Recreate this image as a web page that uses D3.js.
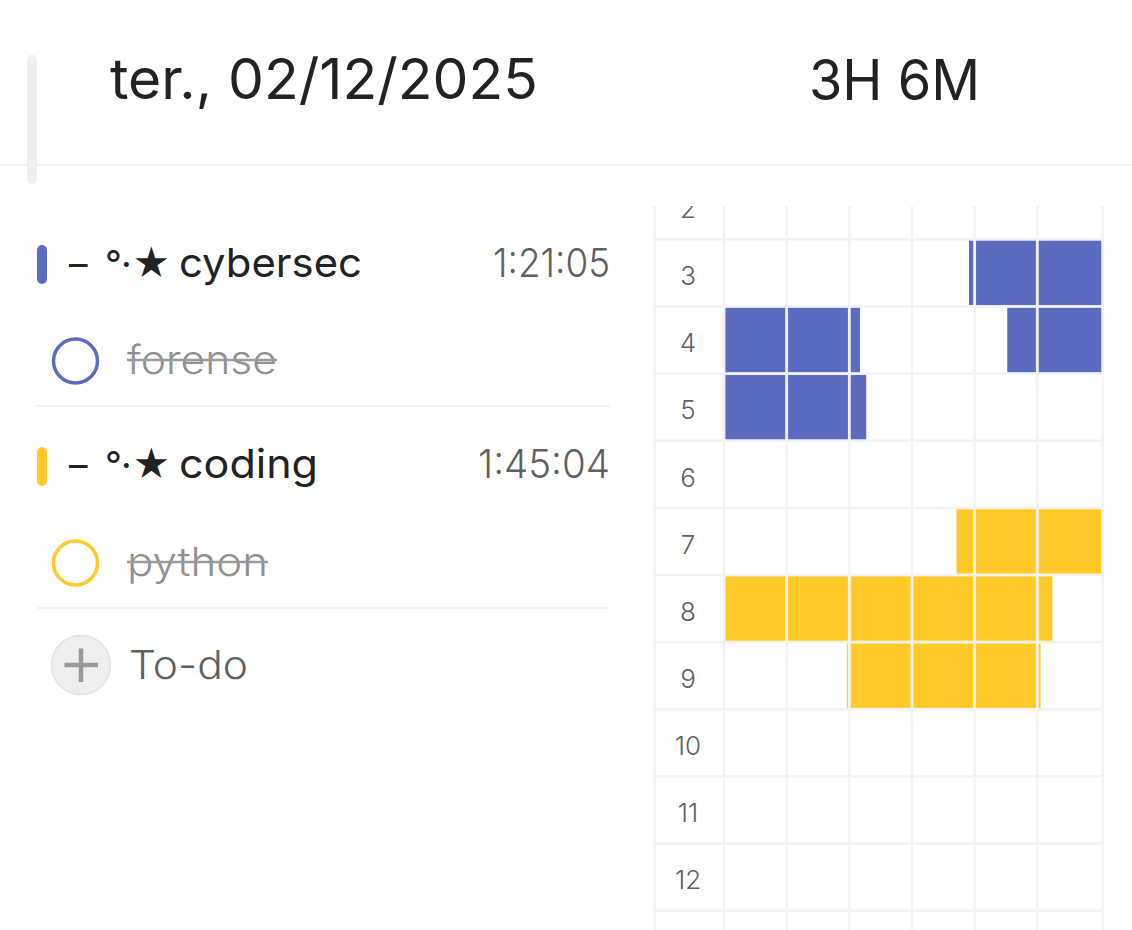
<!DOCTYPE html>
<html>
<head>
<meta charset="utf-8">
<script src="https://cdn.jsdelivr.net/npm/d3@7"></script>
<style>
  html, body { margin: 0; background: #fff; }
  svg { display: block; }
  text { font-family: Inter, "Noto Sans", sans-serif; }
  .axis path, .axis line { display: none; }
  .axis text { font-size: 26px; font-weight: 300; fill: #5f5f5f; font-family: Inter, sans-serif; }
</style>
</head>
<body>
<svg id="chart" width="1132" height="930"></svg>
<script>
const dateLabel = 'ter., 02/12/2025';
const totalLabel = '3H 6M';
const addLabel = 'To-do';

const hours = [2, 3, 4, 5, 6, 7, 8, 9, 10, 11, 12, 13];
const minuteTicks = [0, 10, 20, 30, 40, 50, 60];

const categoryPrefix = '– °·★';
const categories = ['cybersec', 'coding'];
const categoryTimes = ['1:21:05', '1:45:04'];
const categoryTasks = ['forense', 'python'];
const categoryColors = ['#5c6bc0', '#ffca28'];

// [hour, start minute, end minute]
const cybersecSessions = [[3, 39.1, 60], [4, 0, 21.7], [4, 45.2, 60], [5, 0, 22.7]];
const codingSessions = [[7, 37.1, 60], [8, 0, 52.3], [9, 19.6, 50.5]];

const gridColor = '#f1f2f6';

const svg = d3.select('#chart');

// last column of the grid is slightly wider in the app
const x = d3.scaleLinear().domain([0, 50, 60]).range([724, 1037.3, 1102.7]);
const y = d3.scaleLinear().domain([3, 13]).range([239.3, 910.7]);

// header
svg.append('text').attr('x', 110).attr('y', 98.5)
  .attr('textLength', 428).attr('lengthAdjust', 'spacingAndGlyphs')
  .attr('font-size', 56).attr('fill', '#222').text(dateLabel);
svg.append('text').attr('x', 809).attr('y', 99.5)
  .attr('textLength', 171).attr('lengthAdjust', 'spacingAndGlyphs')
  .attr('font-size', 56).attr('fill', '#222').text(totalLabel);
svg.append('line').attr('x1', 0).attr('x2', 1132).attr('y1', 165).attr('y2', 165)
  .attr('stroke', gridColor).attr('stroke-width', 2);
svg.append('rect').attr('x', 27).attr('y', 55).attr('width', 10).attr('height', 129)
  .attr('rx', 5).attr('fill', '#eeeeee');

// category list
const titleWidths = [183, 139];
const timeWidths = [117, 132];
const taskWidths = [150, 141];
const rows = [
  { barY: 245, titleY: 277, circleY: 361, taskY: 374, strikeY: 360, ruleY: 406 },
  { barY: 447, titleY: 478, circleY: 563, taskY: 576, strikeY: 562, ruleY: 608 }
];

categories.forEach((name, i) => {
  const r = rows[i];
  const g = svg.append('g');
  g.append('rect').attr('x', 37).attr('y', r.barY).attr('width', 10).attr('height', 39)
    .attr('rx', 5).attr('fill', categoryColors[i]);
  // each prefix glyph gets its own x, the spacing in the app is wider than Inter's
  g.append('text').attr('x', '69 91 105 121 132').attr('y', r.titleY)
    .attr('font-size', 37).attr('fill', '#222').text(categoryPrefix);
  g.append('text').attr('x', 179).attr('y', r.titleY)
    .attr('textLength', titleWidths[i]).attr('lengthAdjust', 'spacingAndGlyphs')
    .attr('font-size', 40).attr('fill', '#222').text(name);
  g.append('text').attr('x', 610 - timeWidths[i]).attr('y', r.titleY)
    .attr('textLength', timeWidths[i]).attr('lengthAdjust', 'spacingAndGlyphs')
    .attr('font-size', 40).attr('font-weight', 300).attr('fill', '#5f5f5f').text(categoryTimes[i]);
  g.append('circle').attr('cx', 75.5).attr('cy', r.circleY).attr('r', 22)
    .attr('fill', 'none').attr('stroke', categoryColors[i]).attr('stroke-width', 3.5);
  g.append('text').attr('x', 127).attr('y', r.taskY)
    .attr('textLength', taskWidths[i]).attr('lengthAdjust', 'spacingAndGlyphs')
    .attr('font-size', 39).attr('font-weight', 300).attr('fill', '#909090').text(categoryTasks[i]);
  g.append('line').attr('x1', 127).attr('x2', 127 + taskWidths[i])
    .attr('y1', r.strikeY).attr('y2', r.strikeY)
    .attr('stroke', '#9a9a9a').attr('stroke-width', 2.5);
  g.append('line').attr('x1', 37).attr('x2', 610).attr('y1', r.ruleY).attr('y2', r.ruleY)
    .attr('stroke', gridColor).attr('stroke-width', 2);
});

// add button
svg.append('circle').attr('cx', 81).attr('cy', 665).attr('r', 29.5)
  .attr('fill', '#eeeeee').attr('stroke', '#e2e2e2').attr('stroke-width', 1.5);
svg.append('path').attr('d', 'M64.5,665H98M81,648.5V682')
  .attr('stroke', '#999').attr('stroke-width', 4.5).attr('fill', 'none');
svg.append('text').attr('x', 129).attr('y', 679)
  .attr('textLength', 119).attr('lengthAdjust', 'spacingAndGlyphs')
  .attr('font-size', 39).attr('font-weight', 300).attr('fill', '#5f5f5f').text(addLabel);

// timeline grid, clipped to the scroll area
svg.append('clipPath').attr('id', 'grid-clip').append('rect')
  .attr('x', 640).attr('y', 206).attr('width', 492).attr('height', 724);
const grid = svg.append('g').attr('clip-path', 'url(#grid-clip)');

grid.selectAll('.h-line').data(hours).join('line').attr('class', 'h-line')
  .attr('x1', 654.7).attr('x2', x(60))
  .attr('y1', d => y(d)).attr('y2', d => y(d))
  .attr('stroke', gridColor).attr('stroke-width', 2.4);

grid.selectAll('.v-line').data(minuteTicks).join('line').attr('class', 'v-line')
  .attr('x1', d => x(d)).attr('x2', d => x(d))
  .attr('y1', 206).attr('y2', 930)
  .attr('stroke', gridColor).attr('stroke-width', 2.4);
grid.append('line').attr('x1', 654.7).attr('x2', 654.7).attr('y1', 206).attr('y2', 930)
  .attr('stroke', gridColor).attr('stroke-width', 2.4);

const hourAxis = d3.axisLeft(y).tickValues(hours.slice(0, 11)).tickSize(0).tickPadding(0);
grid.append('g').attr('class', 'axis')
  .attr('transform', 'translate(688,37)')
  .call(hourAxis)
  .call(g => g.select('.domain').remove())
  .selectAll('text').attr('text-anchor', 'middle').attr('x', 0);

// split a session on the 10 minute grid so each cell keeps its white gutter
function sessionCells(session) {
  const [hour, start, end] = session;
  const cells = [];
  for (let k = 0; k < minuteTicks.length - 1; k++) {
    const a = Math.max(start, minuteTicks[k]);
    const b = Math.min(end, minuteTicks[k + 1]);
    if (b > a) cells.push({ hour, a, b, lo: minuteTicks[k], hi: minuteTicks[k + 1] });
  }
  return cells;
}

const gutter = 1.4;
[cybersecSessions, codingSessions].forEach((sessions, i) => {
  grid.append('g').selectAll('rect').data(sessions.flatMap(sessionCells)).join('rect')
    .attr('x', d => Math.max(x(d.a), x(d.lo) + gutter))
    .attr('y', d => y(d.hour) + gutter)
    .attr('width', d => Math.min(x(d.b), x(d.hi) - gutter) - Math.max(x(d.a), x(d.lo) + gutter))
    .attr('height', d => y(d.hour + 1) - y(d.hour) - 2 * gutter)
    .attr('fill', categoryColors[i]);
});
</script>
</body>
</html>
